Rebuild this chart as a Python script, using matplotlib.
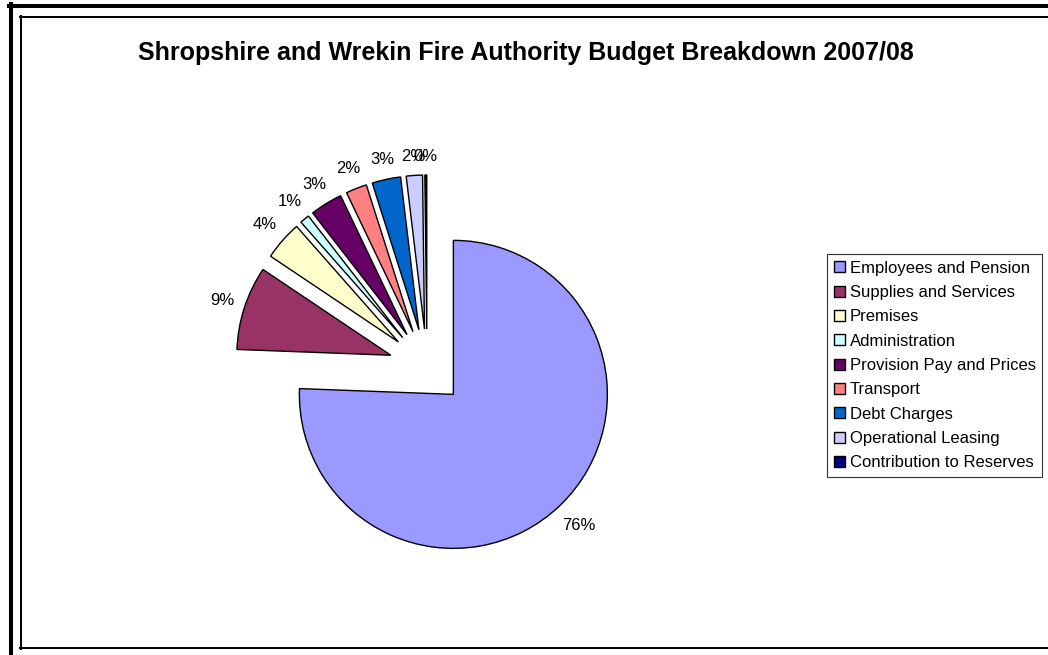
import numpy as np
import matplotlib.pyplot as plt

plt.rcParams['font.family'] = ['Liberation Sans', 'DejaVu Sans']

categories = ['Employees and Pension', 'Supplies and Services', 'Premises',
              'Administration', 'Provision Pay and Prices', 'Transport',
              'Debt Charges', 'Operational Leasing', 'Contribution to Reserves']
shares = [75.6, 8.8, 4.1, 1.0, 3.4, 2.2, 3.0, 1.7, 0.2]
colours = ['#9999FF', '#993366', '#FFFFCC', '#CCFFFF', '#660066',
           '#FF8080', '#0066CC', '#CCCCFF', '#000080']
title = 'Shropshire and Wrekin Fire Authority Budget Breakdown 2007/08'

W, H = 1048, 655
fig = plt.figure(figsize=(W / 100, H / 100), dpi=100)
ax = fig.add_axes([0, 0, 1, 1])

radius = 154
wedges, _ = ax.pie(shares, colors=colours, startangle=90, counterclock=False,
                   center=(427, H - 367), radius=radius,
                   explode=[38] * len(shares), frame=True,
                   wedgeprops=dict(edgecolor='black', linewidth=1.0))
ax.set_xlim(0, W)
ax.set_ylim(0, H)
ax.set_aspect('equal')
ax.axis('off')

# percentage labels just outside each slice
total = sum(shares)
for w, v in zip(wedges, shares):
    ang = np.deg2rad((w.theta1 + w.theta2) / 2)
    c, s = np.cos(ang), np.sin(ang)
    txt = f'{v / total * 100:.0f}%'
    hw = 5.5 * len(txt)
    hh = 7
    d = w.r + 11 + hw * abs(c) + hh * abs(s)
    ax.text(w.center[0] + d * c, w.center[1] + d * s, txt,
            ha='center', va='center', fontsize=12)

ax.text(526, H - 53, title, ha='center', va='center',
        fontsize=18, fontweight='bold')

leg = ax.legend(wedges, categories, loc='upper left',
                bbox_to_anchor=(827 / W, 1 - 254 / H), bbox_transform=fig.transFigure,
                fontsize=12, frameon=True, fancybox=False, borderaxespad=0,
                handlelength=0.65, handleheight=0.65, handletextpad=0.3,
                labelspacing=0.56, borderpad=0.4)
leg.get_frame().set_edgecolor('black')
leg.get_frame().set_linewidth(0.8)

# chart area borders
ax.plot([9, W], [H - 6, H - 6], color='black', lw=2.9, clip_on=False)
ax.plot([11, 11], [H - 4, 0], color='black', lw=2.9, clip_on=False)
ax.plot([20, W], [H - 17, H - 17], color='black', lw=1.44, clip_on=False)
ax.plot([21, 21], [H - 16, H - 649], color='black', lw=1.44, clip_on=False)
ax.plot([20, W], [H - 648, H - 648], color='black', lw=1.44, clip_on=False)

plt.savefig('out.png', dpi=100)
